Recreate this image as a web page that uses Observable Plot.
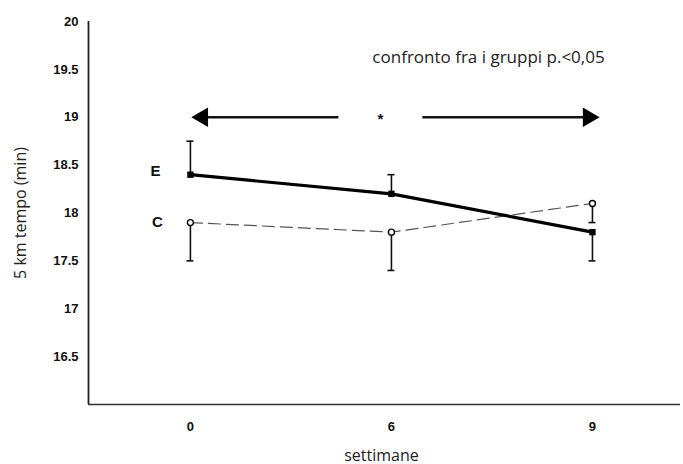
<!DOCTYPE html>
<html>
<head>
<meta charset="utf-8">
<script src="https://cdn.jsdelivr.net/npm/d3@7"></script>
<script src="https://cdn.jsdelivr.net/npm/@observablehq/plot@0.6"></script>
<style>
  html, body { margin: 0; padding: 0; background: #fff; }
</style>
</head>
<body>
<div id="chart"></div>
<script>
// ---- data ----
const weeks = ["0", "6", "9"];               // x tick labels (settimane)
const pos = [0, 1, 2];                        // categorical positions
const seriesE = [18.4, 18.2, 17.8];           // gruppo E
const seriesC = [17.9, 17.8, 18.1];           // gruppo C
const errEndE = [18.75, 18.4, 17.5];          // error bar ends, E
const errEndC = [17.5, 17.4, 17.9];           // error bar ends, C
const yTicks = [16.5, 17, 17.5, 18, 18.5, 19, 19.5, 20];
const groupLabels = ["E", "C"];
// significance annotation (in x-position units / minutes)
const arrowShafts = [
  {x1: 0.736, x2: 0.03, y: 19.0},
  {x1: 1.154, x2: 1.99, y: 19.0}
];
const arrowHeads = [
  {x: 0.06, y: 19.0, rot: -90},
  {x: 1.98, y: 19.0, rot: 90}
];
const starNote = {x: 0.945, y: 19.0, text: "*"};
const titleNote = {x: 1.483, y: 19.62, text: "confronto fra i gruppi p.<0,05"};

const rowsE = pos.map((p, i) => ({x: p, y: seriesE[i], e: errEndE[i]}));
const rowsC = pos.map((p, i) => ({x: p, y: seriesC[i], e: errEndC[i]}));

const chart = Plot.plot({
  width: 683,
  height: 464,
  marginLeft: 88,
  marginRight: 3,
  marginTop: 21,
  marginBottom: 60,
  style: {fontFamily: "Liberation Sans, Arial, sans-serif", fontSize: "12px", color: "#111", background: "#fff"},
  x: {type: "linear", domain: [-0.507, 2.438]},
  y: {domain: [16, 20]},
  marks: [
    // axes lines
    Plot.ruleX([-0.507], {stroke: "#222", strokeWidth: 1.8}),
    Plot.ruleY([16], {stroke: "#333", strokeWidth: 1.5}),
    Plot.axisY({ticks: yTicks, tickSize: 0, tickPadding: 10, tickFormat: d => String(d),
      fontWeight: "bold", fontSize: 13, label: null}),
    Plot.axisX({ticks: pos, tickSize: 0, tickPadding: 17, tickFormat: i => weeks[i],
      fontWeight: "bold", fontSize: 13, label: null}),
    // axis titles
    Plot.text(["5 km tempo (min)"], {frameAnchor: "left", textAnchor: "middle", rotate: -90, dx: -68,
      fontFamily: "Open Sans", fontSize: 16, fill: "#222"}),
    Plot.text(["settimane"], {frameAnchor: "bottom", dy: 56, dx: -3,
      fontFamily: "Open Sans", fontSize: 16, fill: "#222"}),
    // error bars
    Plot.ruleX(rowsE, {x: "x", y1: "y", y2: "e", stroke: "#111", strokeWidth: 1.6}),
    Plot.ruleY(rowsE, {x1: "x", x2: "x", y: "e", insetLeft: -3.5, insetRight: -3.5, stroke: "#111", strokeWidth: 1.6}),
    Plot.ruleX(rowsC, {x: "x", y1: "y", y2: "e", stroke: "#111", strokeWidth: 1.6}),
    Plot.ruleY(rowsC, {x1: "x", x2: "x", y: "e", insetLeft: -3.5, insetRight: -3.5, stroke: "#111", strokeWidth: 1.6}),
    // lines
    Plot.line(rowsC, {x: "x", y: "y", stroke: "#555", strokeWidth: 1.2, strokeDasharray: "12,6"}),
    Plot.line(rowsE, {x: "x", y: "y", stroke: "#000", strokeWidth: 3.2}),
    Plot.dot(rowsE, {x: "x", y: "y", symbol: "square", r: 3.6, fill: "#000"}),
    Plot.dot(rowsC, {x: "x", y: "y", r: 3, fill: "#fff", stroke: "#000", strokeWidth: 1.4}),
    // group labels
    Plot.text([{x: pos[0], y: seriesE[0], t: groupLabels[0]}], {x: "x", y: "y", text: "t", dx: -35, dy: -4,
      fontWeight: "bold", fontSize: 15}),
    Plot.text([{x: pos[0], y: seriesC[0], t: groupLabels[1]}], {x: "x", y: "y", text: "t", dx: -33, dy: 0,
      fontWeight: "bold", fontSize: 15}),
    // significance arrows
    Plot.link(arrowShafts, {x1: "x1", x2: "x2", y1: "y", y2: "y", stroke: "#111", strokeWidth: 2.6}),
    Plot.dot(arrowHeads, {x: "x", y: "y", rotate: "rot", symbol: "triangle", r: 6.2, fill: "#000", stroke: "#000"}),
    Plot.text([starNote], {x: "x", y: "y", text: "text", fontWeight: "bold", fontSize: 15, dy: 2}),
    Plot.text([titleNote], {x: "x", y: "y", text: "text", fontFamily: "Open Sans", fontSize: 17, fill: "#222"})
  ]
});
document.getElementById("chart").appendChild(chart);
</script>
</body>
</html>
